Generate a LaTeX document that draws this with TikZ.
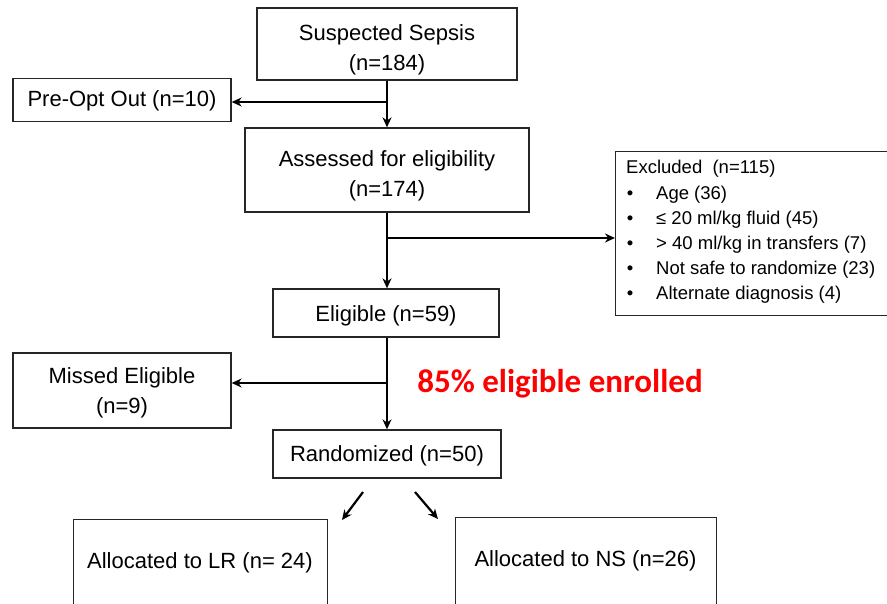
\documentclass[tikz,border=0pt]{standalone}
\usepackage{fontspec}
\setmainfont{Liberation Sans}
\newfontfamily\redfont{Carlito}
\usetikzlibrary{arrows.meta,calc}
\begin{document}
\begin{tikzpicture}[x=1pt,y=-1pt,
  boxst/.style={draw=black!85, line width=1.3pt, inner sep=0pt},
  txt/.style={inner sep=0pt, align=center, font=\fontsize{22}{30}\selectfont},
  exctxt/.style={inner sep=0pt, anchor=west, font=\fontsize{18.5}{22}\selectfont, text height=0.75em, text depth=0.25em},
  arr/.style={line width=2.2pt, -{Stealth[length=10pt,width=9pt]}},
  ln/.style={line width=2.2pt}
]
\useasboundingbox (0,0) rectangle (887,604);
\clip (0,0) rectangle (887,604);
\fill[white] (0,0) rectangle (887,604);

% boxes
\node[boxst, minimum width=260pt, minimum height=72pt] (sus) at (387,44) {};
\node[boxst, minimum width=218pt, minimum height=43pt] (pre) at (122,100) {};
\node[boxst, minimum width=284pt, minimum height=84pt] (ass) at (387,170) {};
\node[boxst, minimum width=300pt, minimum height=164pt, anchor=north west] (exc) at (615,151) {};
\node[boxst, minimum width=226pt, minimum height=48pt] (eli) at (386,313) {};
\node[boxst, minimum width=218pt, minimum height=75pt] (mis) at (122,390.5) {};
\node[boxst, minimum width=228pt, minimum height=48pt] (ran) at (387,454) {};
\node[boxst, minimum width=254pt, minimum height=120pt, anchor=north west] (lr) at (73,519) {};
\node[boxst, minimum width=261pt, minimum height=120pt, anchor=north west] (ns) at (455,517) {};

% texts
\node[txt] (sus-t) at (387,50) {Suspected Sepsis\\(n=184)};
\node[txt] (pre-t) at (122,101) {Pre-Opt Out (n=10)};
\node[txt] (ass-t) at (387,176) {Assessed for eligibility\\(n=174)};
\node[txt] (eli-t) at (386,316) {Eligible (n=59)};
\node[txt] (mis-t) at (122,393) {Missed Eligible\\(n=9)};
\node[txt] (ran-t) at (387,456) {Randomized (n=50)};
\node[txt] (lr-t) at (200,563) {Allocated to LR (n= 24)};
\node[txt] (ns-t) at (585.5,561) {Allocated to NS (n=26)};
\node[inner sep=0pt, text=red, font=\redfont\bfseries\fontsize{33}{36}\selectfont] (pct) at (560,384) {85\% eligible enrolled};

% excluded list
\node[exctxt] (ex0) at (626,171) {Excluded\ \ (n=115)};
\foreach \i/\yy/\t in {1/197/{Age (36)},2/222/{≤ 20 ml/kg fluid (45)},3/247/{> 40 ml/kg in transfers (7)},4/272/{Not safe to randomize (23)},5/297/{Alternate diagnosis (4)}}{
  \node[exctxt, anchor=center] (bul\i) at (630,\yy) {•};
  \node[exctxt] (it\i) at (656,\yy) {\t};
}

% spine
\coordinate (sp) at (387,0);
\coordinate (b1) at (387,102);
\coordinate (b2) at (387,238);
\coordinate (b3) at (387,383);
\draw[arr] (sus.south -| sp) -- (ass.north -| sp);
\draw[arr] (b1) -- (b1 -| pre.east);
\draw[arr] (ass.south -| sp) -- (eli.north -| sp);
\draw[arr] (b2) -- (b2 -| exc.west);
\draw[arr] (eli.south -| sp) -- (ran.north -| sp);
\draw[arr] (b3) -- (b3 -| mis.east);

% diagonal arrows
\coordinate (d1s) at (363,492);
\coordinate (d1e) at (342,520);
\coordinate (d2s) at (415,492);
\coordinate (d2e) at (438,519);
\draw[arr] (d1s) -- (d1e);
\draw[arr] (d2s) -- (d2e);
\end{tikzpicture}
\end{document}
